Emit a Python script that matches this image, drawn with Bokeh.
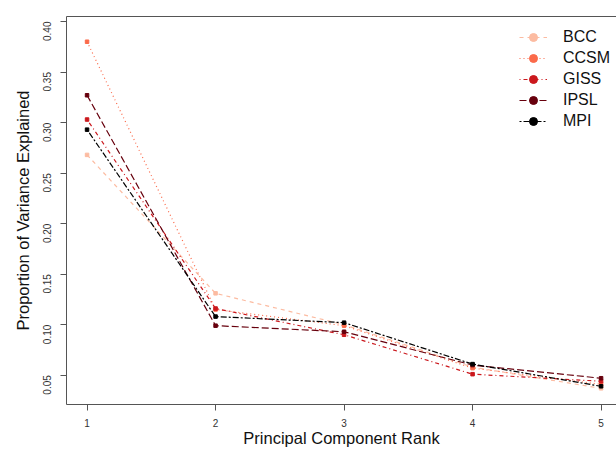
import math
from bokeh.plotting import figure
from bokeh.models import Range1d, Legend, LegendItem, FixedTicker, LinearAxis, CustomJSTickFormatter
from bokeh.embed import file_html
from bokeh.resources import INLINE

ranks = [1, 2, 3, 4, 5]
models = ["BCC", "CCSM", "GISS", "IPSL", "MPI"]
bcc = [0.268, 0.131, 0.100, 0.058, 0.037]
ccsm = [0.380, 0.115, 0.099, 0.057, 0.041]
giss = [0.303, 0.116, 0.090, 0.051, 0.044]
ipsl = [0.327, 0.099, 0.093, 0.060, 0.047]
mpi = [0.293, 0.108, 0.102, 0.061, 0.039]
series = [bcc, ccsm, giss, ipsl, mpi]
colors = ["#FCBBA1", "#FB6A4A", "#CB181D", "#67000D", "#000000"]
dashes = ["4 4", "1 3", "1 3 4 3", "7 3", "2 2 6 2"]
y_ticks = [0.05, 0.10, 0.15, 0.20, 0.25, 0.30, 0.35, 0.40]
x_title = "Principal Component Rank"
y_title = "Proportion of Variance Explained"

FONT = "Liberation Sans"
AX = "#555555"

p = figure(width=616, height=453, output_backend="svg", toolbar_location=None,
           x_range=Range1d(0.84, 5.12), y_range=Range1d(0.0210, 0.40496),
           min_border_left=66, min_border_right=0, min_border_top=16, min_border_bottom=49)
p.outline_line_color = None
p.xgrid.grid_line_color = None
p.ygrid.grid_line_color = None
p.background_fill_color = "white"
p.border_fill_color = "white"

xax = p.below[0]
yax = p.left[0]

top = LinearAxis(major_tick_line_color=None, minor_tick_line_color=None,
                 major_tick_out=0, major_tick_in=0, major_label_standoff=0,
                 major_label_text_font_size="0px", axis_line_color=AX,
                 ticker=FixedTicker(ticks=[]))
p.add_layout(top, "above")

for ax in (xax, yax):
    ax.axis_line_color = AX
    ax.major_tick_line_color = AX
    ax.minor_tick_line_color = None
    ax.minor_tick_out = 0
    ax.major_tick_in = 0
    ax.major_tick_out = 6
    ax.major_label_text_font = FONT
    ax.major_label_text_font_size = "10px"
    ax.major_label_text_color = "#333333"
    ax.axis_label_text_font = FONT
    ax.axis_label_text_font_size = "16.5px"
    ax.axis_label_text_font_style = "normal"
    ax.axis_label_text_color = "#111111"

xax.ticker = FixedTicker(ticks=ranks)
xax.major_label_standoff = 8
xax.axis_label = x_title
xax.axis_label_standoff = -1

yax.ticker = FixedTicker(ticks=y_ticks)
yax.formatter = CustomJSTickFormatter(code="return tick.toFixed(2);")
yax.major_label_orientation = math.pi / 2
yax.major_label_standoff = 13
yax.axis_label = y_title
yax.axis_label_standoff = 5

items = []
for name, vals, col, dash in zip(models, series, colors, dashes):
    p.line(ranks, vals, line_color=col, line_dash=dash, line_width=1.2)
    p.scatter(ranks, vals, marker="square", size=3.5, fill_color=col, line_color=col)
    l1 = p.line([float("nan")], [float("nan")], line_color=col, line_dash=dash, line_width=1.2)
    l2 = p.scatter([float("nan")], [float("nan")], marker="circle", size=4.5, fill_color=col, line_color=col)
    items.append(LegendItem(label=name, renderers=[l1, l2]))

legend = Legend(items=items, location=(453, 273), border_line_color=None,
                background_fill_alpha=0, padding=0, spacing=1, margin=0,
                glyph_width=28, glyph_height=20, label_height=20, label_standoff=16,
                label_text_font=FONT, label_text_font_size="16px", label_text_color="#111111")
p.add_layout(legend)

open("out.html", "w").write(file_html(p, INLINE))
